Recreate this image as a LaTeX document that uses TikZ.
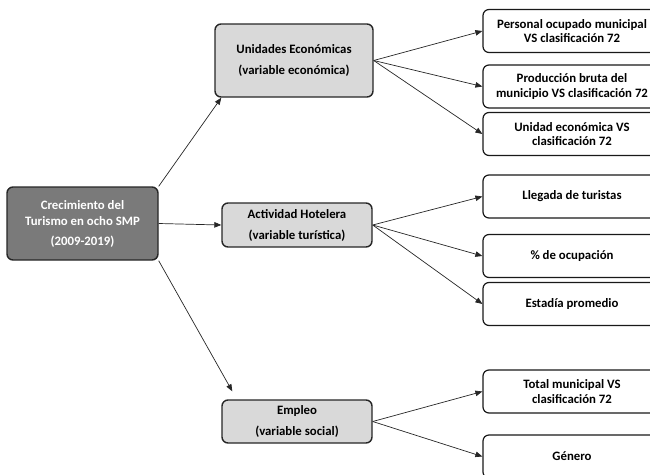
\documentclass[tikz,border=0pt]{standalone}
\usepackage{fontspec}
\setmainfont{Carlito}
\usetikzlibrary{arrows.meta}

\tikzset{
  rootbox/.style={draw=black!85, line width=1.4pt, rounded corners=6pt, fill=black!52,
    text=white, align=center, font=\bfseries\fontsize{12.8}{16}\selectfont,
    minimum width=151pt, minimum height=73pt, inner sep=0pt},
  varbox/.style={draw=black!85, line width=1.4pt, rounded corners=6pt, fill=black!15,
    align=center, font=\bfseries\fontsize{12.8}{15}\selectfont, inner sep=0pt},
  leafbox/.style={draw=black!90, line width=1.2pt, rounded corners=6pt, fill=white,
    align=center, font=\bfseries\fontsize{12.8}{14.5}\selectfont,
    minimum width=178pt, minimum height=43pt, inner sep=0pt},
  link/.style={-{Triangle[length=7pt,width=5.5pt]}, line width=0.7pt, black!85}
}

\begin{document}
\begin{tikzpicture}[x=1pt, y=-1pt]
    \useasboundingbox (0,0) rectangle (650,474);

    % Central node
    \node[rootbox] (root) at (82.5,223.5) {Crecimiento del\\Turismo en ocho SMP\\[4pt](2009-2019)};

    % Variables
    \node[varbox, minimum width=158pt, minimum height=73pt] (ue) at (294,60.5) {Unidades Económicas\\[6pt](variable económica)};
    \node[varbox, minimum width=150pt, minimum height=44pt] (ah) at (297,225) {Actividad Hotelera\\[6pt](variable turística)};
    \node[varbox, minimum width=150pt, minimum height=43pt] (em) at (297,421.5) {Empleo\\[6pt](variable social)};

    % Indicators
    \node[leafbox] (pom) at (572,31) {Personal ocupado municipal\\VS clasificación 72};
    \node[leafbox] (pbm) at (572,86.5) {Producción bruta del\\municipio VS clasificación 72};
    \node[leafbox] (uec) at (572,134) {Unidad económica VS\\clasificación 72};
    \node[leafbox] (llt) at (572,196.5) {Llegada de turistas};
    \node[leafbox] (ocu) at (572,256) {\% de ocupación};
    \node[leafbox] (est) at (572,304) {Estadía promedio};
    \node[leafbox] (tmc) at (572,391.5) {Total municipal VS\\clasificación 72};
    \node[leafbox] (gen) at (572,456.5) {Género};

    % Arrows
    \draw[link] (root.north east) -- ([xshift=7pt]ue.south west);
    \draw[link] (root.east) -- (ah.west);
    \draw[link] (root.south east) -- ([xshift=11pt,yshift=8pt]em.north west);

    \draw[link] (ue.east) -- (pom.west);
    \draw[link] (ue.east) -- (pbm.west);
    \draw[link] (ue.east) -- (uec.west);
    \draw[link] (ah.east) -- (llt.west);
    \draw[link] (ah.east) -- (ocu.west);
    \draw[link] (ah.east) -- (est.west);
    \draw[link] (em.east) -- (tmc.west);
    \draw[link] (em.east) -- (gen.west);
\end{tikzpicture}
\end{document}
